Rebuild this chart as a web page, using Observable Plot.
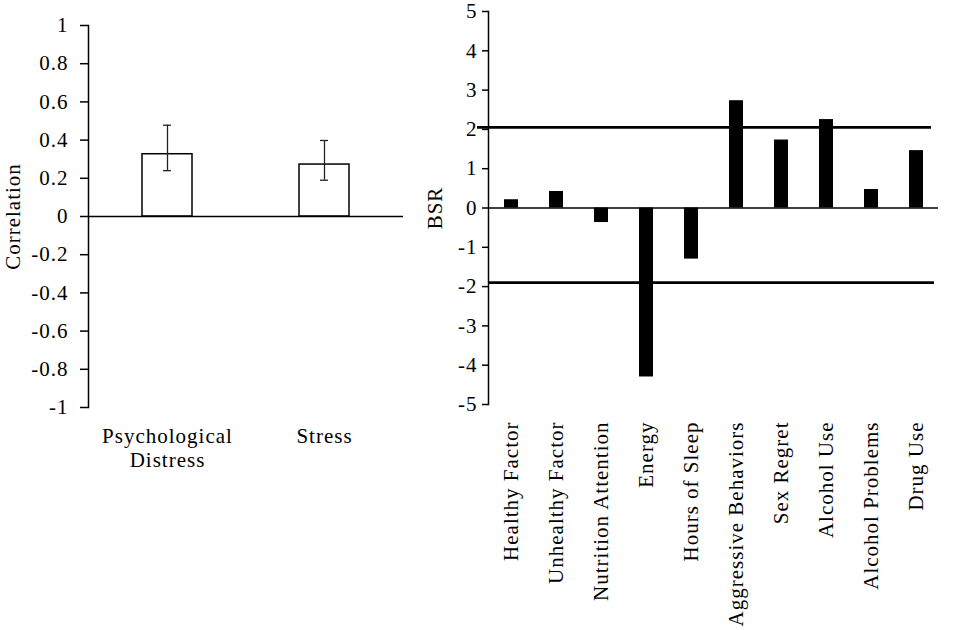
<!DOCTYPE html>
<html>
<head>
<meta charset="utf-8">
<script src="https://cdn.jsdelivr.net/npm/d3@7"></script>
<script src="https://cdn.jsdelivr.net/npm/@observablehq/plot@0.6"></script>
<style>
  html, body { margin: 0; padding: 0; background: #fff; }
  #wrap { display: flex; width: 975px; height: 630px; }
  #wrap svg text { letter-spacing: 1px; }
</style>
</head>
<body>
<div id="wrap"></div>
<script>
// Left panel data
const leftCategories = ["Psychological\nDistress", "Stress"];
const leftValues = [0.326, 0.272];
const leftLower = [0.24, 0.19];
const leftUpper = [0.478, 0.398];
const leftTicks = [1, 0.8, 0.6, 0.4, 0.2, 0, -0.2, -0.4, -0.6, -0.8, -1];

// Right panel data
const rightCategories = ["Healthy Factor", "Unhealthy Factor", "Nutrition Attention", "Energy", "Hours of Sleep",
  "Aggressive Behaviors", "Sex Regret", "Alcohol Use", "Alcohol Problems", "Drug Use"];
const bsrValues = [0.21, 0.42, -0.37, -4.30, -1.30, 2.73, 1.73, 2.25, 0.47, 1.46];
const upperThreshold = [2.05];
const lowerThreshold = [-1.9];
const rightTicks = [5, 4, 3, 2, 1, 0, -1, -2, -3, -4, -5];

const leftData = leftCategories.map((c, i) => ({cat: c, v: leftValues[i], lo: leftLower[i], hi: leftUpper[i]}));
const rightData = rightCategories.map((c, i) => ({cat: c, v: bsrValues[i]}));

const font = {fontFamily: "'Liberation Serif', 'Times New Roman', serif", fontSize: "21px", background: "white", color: "black"};

const left = Plot.plot({
  width: 420, height: 630,
  marginLeft: 88, marginRight: 17, marginTop: 25, marginBottom: 223,
  style: font,
  x: {domain: leftCategories, paddingInner: 0.683, paddingOuter: 0.3415},
  y: {domain: [-1, 1]},
  marks: [
    Plot.frame({anchor: "left", strokeWidth: 1.5}),
    Plot.axisY({ticks: leftTicks, tickSize: 8, tickPadding: 12, tickFormat: d => String(d), strokeWidth: 1.5,
      label: "Correlation", labelAnchor: "center", labelArrow: "none", labelOffset: 83}),
    Plot.axisX({tickSize: 0, tickPadding: 18, label: null, lineHeight: 1.15}),
    Plot.barY(leftData, {x: "cat", y: "v", fill: "white", stroke: "black", strokeWidth: 1.5}),
    Plot.ruleY([0], {stroke: "black", strokeWidth: 1.5}),
    Plot.ruleX(leftData, {x: "cat", y1: "lo", y2: "hi", stroke: "#222", strokeWidth: 1.3}),
    Plot.tickY(leftData, {x: "cat", y: "lo", stroke: "#222", strokeWidth: 1.3, insetLeft: 21, insetRight: 21}),
    Plot.tickY(leftData, {x: "cat", y: "hi", stroke: "#222", strokeWidth: 1.3, insetLeft: 21, insetRight: 21})
  ]
});

const right = Plot.plot({
  width: 555, height: 630,
  marginLeft: 68, marginRight: 37, marginTop: 11, marginBottom: 226,
  style: font,
  x: {domain: rightCategories, paddingInner: 0.69, paddingOuter: 0.345},
  y: {domain: [-5, 5]},
  marks: [
    Plot.frame({anchor: "left", strokeWidth: 1.5}),
    Plot.axisY({ticks: rightTicks, tickSize: 6, tickPadding: 5, tickFormat: d => String(d), strokeWidth: 1.5,
      label: "BSR", labelAnchor: "center", labelArrow: "none", labelOffset: 61}),
    Plot.axisX({tickSize: 0, tickPadding: 17, tickRotate: -90, label: null}),
    Plot.barY(rightData, {x: "cat", y: "v", fill: "black"}),
    Plot.ruleY([0], {stroke: "black", strokeWidth: 1.5}),
    Plot.ruleY(upperThreshold, {stroke: "black", strokeWidth: 2.8, insetLeft: -11, insetRight: 7}),
    Plot.ruleY(lowerThreshold, {stroke: "black", strokeWidth: 2.8, insetRight: 4})
  ]
});

document.getElementById("wrap").append(left, right);
</script>
</body>
</html>
